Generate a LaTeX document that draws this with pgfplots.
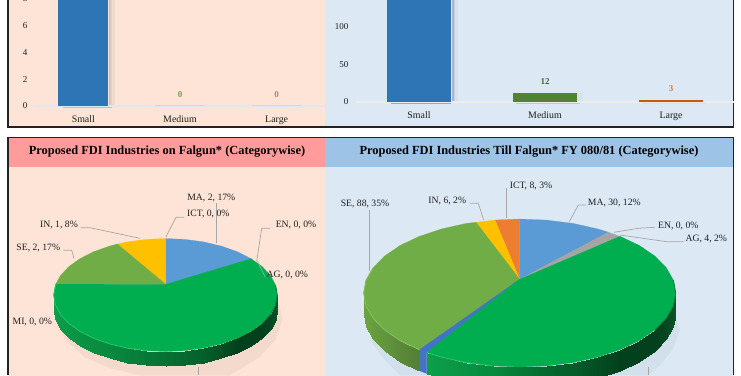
\documentclass[border=0pt]{standalone}
\usepackage{pgfplots}
\pgfplotsset{compat=1.18}
\usepackage{fontspec}
\setmainfont{Liberation Serif}
\definecolor{peach}{HTML}{FDE4D7}
\definecolor{sky}{HTML}{DCE9F5}
\definecolor{tleft}{HTML}{FF9B9B}
\definecolor{tright}{HTML}{9DC3E6}
\definecolor{frameC}{HTML}{222222}
\definecolor{lead}{HTML}{A6A6A6}
\definecolor{txt}{HTML}{1F1F1F}
\definecolor{pMA}{HTML}{5B9BD5}
\definecolor{pMI}{HTML}{00AD4F}
\definecolor{pSE}{HTML}{70AD47}
\definecolor{pIN}{HTML}{FFC000}
\definecolor{pICT}{HTML}{ED7D31}
\definecolor{pAG}{HTML}{A5A5A5}
\definecolor{pTO}{HTML}{4472C4}
\definecolor{barB}{HTML}{2E75B6}
\definecolor{barG}{HTML}{548235}
\definecolor{barO}{HTML}{C55A11}
\definecolor{shL}{HTML}{F3DACC}
\definecolor{shR}{HTML}{D2E0EC}
\definecolor{bevG}{HTML}{25C56C}
\definecolor{bevS}{HTML}{86C25A}
\definecolor{bevD}{HTML}{07803A}
\newcommand\poly[2]{\addplot[fill=#1,draw=#1,line width=.2pt] coordinates {#2} --cycle;}
\newcommand\leader[1]{\addplot[lead,line width=.7pt] coordinates {#1};}
\newcommand\lab[2]{\node[text=txt,font=\fontsize{9.7}{10}\selectfont,inner sep=0pt] at (#1) {#2};}
\pgfplotsset{bars/.style={
  scale only axis, ybar, axis x line=bottom, axis y line=left, clip=false,
  xmin=-0.5, xmax=2.5, ymin=0,
  xtick={0,1,2}, xticklabels={Small,Medium,Large},
  tick style={draw=none}, major tick length=0pt,
  y axis line style={draw=none},
  xticklabel style={font=\fontsize{9.9}{11}\selectfont,text=txt,yshift=-6pt},
  yticklabel style={font=\fontsize{9}{10}\selectfont,text=txt,xshift=-4pt},
  /pgf/number format/assume math mode=true,
  nodes near coords, nodes near coords style={font=\fontsize{9}{10}\selectfont\bfseries,yshift=5pt},
}}
\begin{document}
\begin{tikzpicture}[x=1pt,y=1pt]
\useasboundingbox (0,0) rectangle (741,375);
\clip (0,0) rectangle (741,375);
\begin{axis}[at={(0pt,0pt)},anchor=south west,scale only axis,width=741pt,height=375pt,
  xmin=0,xmax=741,ymin=0,ymax=375,y dir=reverse,hide axis,clip=false,no markers,
  colormap={sides}{rgb255(0)=(12,159,74) rgb255(1)=(8,138,63) rgb255(2)=(5,96,43) rgb255(3)=(3,64,29) rgb255(4)=(10,90,44) rgb255(5)=(107,163,68) rgb255(6)=(84,127,53)},
  point meta min=0, point meta max=6]
% panels
\poly{peach}{(8,0)(325,0)(325,127)(8,127)}
\poly{sky}{(325,0)(733,0)(733,127)(325,127)}
\poly{tleft}{(8,138)(325,138)(325,167)(8,167)}
\poly{tright}{(325,138)(733,138)(733,167)(325,167)}
\poly{peach}{(8,167)(325,167)(325,375)(8,375)}
\poly{sky}{(325,167)(733,167)(733,375)(325,375)}
\addplot[frameC,line width=1.5pt] coordinates {(8,0)(8,127)(733.5,127)(733.5,0)};
\addplot[frameC,line width=1.5pt] coordinates {(8,375)(8,137.5)(733.5,137.5)(733.5,375)};
% bar shadows
\definecolor{a1}{HTML}{C9BDB5}\definecolor{a2}{HTML}{DED0C6}\definecolor{a3}{HTML}{F0DACD}
\definecolor{b1}{HTML}{A9B6C3}\definecolor{b2}{HTML}{C3D0DC}\definecolor{b3}{HTML}{D6E3EF}
\poly{a1}{(109,0)(110.5,0)(110.5,105)(109,105)}
\poly{a2}{(110.5,0)(112,0)(112,105)(110.5,105)}
\poly{a3}{(112,0)(114,0)(114,105)(112,105)}
\poly{b1}{(452,0)(454,0)(454,100)(452,100)}
\poly{b2}{(454,0)(455.5,0)(455.5,100)(454,100)}
\poly{b3}{(455.5,0)(457,0)(457,100)(455.5,100)}
\poly{b3}{(577,93)(582,93)(582,100)(577,100)}
\addplot[gray!70,line width=.8pt] coordinates {(391,103.5)(451,103.5)};
\addplot[gray!45,line width=.8pt] coordinates {(516,103.5)(580,103.5)};
\addplot[gray!25,line width=.8pt] coordinates {(642,103.5)(705,103.5)};
\addplot[gray!50,line width=.7pt] coordinates {(63,107.5)(112,107.5)};
% pie shadows
\poly{shL}{(56,320)(66,340)(85,357)(110,368)(140,375)(230,375)(258,358)(275,340)(282,320)(279,305)}
\poly{shR}{(672,310)(680,330)(672,350)(660,365)(648,375)(400,375)(385,360)(370,340)}
% left pie side
\addplot[surf,shader=interp,mesh/rows=2,point meta=\thisrow{c}] table {
x y c
53.7 295 0
55.4 304.8 0
60.4 314.3 0.2
68.7 323.3 0.4
79.9 331.3 0.6
93.6 338.3 0.8
109.6 343.9 1
127.3 348.1 1.2
146.1 350.6 1.4
165.5 351.5 1.6
184.9 350.6 1.8
203.7 348.1 2
221.4 343.9 2.5
237.4 338.3 3
251.1 331.3 3
262.3 323.3 3
270.6 314.3 3.3
275.6 304.8 3.7
277.3 295 4
53.7 309.5 0
55.4 319.3 0
60.4 328.8 0.2
68.7 337.8 0.4
79.9 345.8 0.6
93.6 352.8 0.8
109.6 358.4 1
127.3 362.6 1.2
146.1 365.1 1.4
165.5 366 1.6
184.9 365.1 1.8
203.7 362.6 2
221.4 358.4 2.5
237.4 352.8 3
251.1 345.8 3
262.3 337.8 3
270.6 328.8 3.3
275.6 319.3 3.7
277.3 309.5 4
};
% left pie face
\poly{pMA}{(165.7,284.3)(165.5,238.5)(184.9,239.4)(203.7,241.9)(221.4,246.1)(237.4,251.7)(251.1,258.7)}
\poly{pIN}{(165.7,284.3)(117.3,244)(127.3,241.9)(146.1,239.4)(165.5,238.5)}
\poly{pSE}{(165.7,284.3)(55.7,284.2)(60.4,275.7)(68.7,266.7)(79.9,258.7)(93.6,251.7)(109.6,246.1)(117.3,244)}
\poly{pMI}{(165.7,284.3)(251.1,258.7)(262.3,266.7)(270.6,275.7)(275.6,285.2)(277.3,295)(275.6,304.8)(270.6,314.3)(262.3,323.3)(251.1,331.3)(237.4,338.3)(221.4,343.9)(203.7,348.1)(184.9,350.6)(165.5,351.5)(146.1,350.6)(127.3,348.1)(109.6,343.9)(93.6,338.3)(79.9,331.3)(68.7,323.3)(60.4,314.3)(55.4,304.8)(53.7,295)(55.7,284.2)}
\addplot[bevG,line width=.8pt] coordinates {(55.7,284.2)(53.7,295)(55.4,304.8)(60.4,314.3)(68.7,323.3)(79.9,331.3)(93.6,338.3)(109.6,343.9)(127.3,348.1)(146.1,350.6)};
\addplot[bevD,line width=.8pt] coordinates {(262.3,323.3)(270.6,314.3)(275.6,304.8)(277.3,295)(275.6,285.2)};
% right pie sides
\addplot[surf,shader=interp,mesh/rows=2,point meta=\thisrow{c}] table {
x y c
363.7 293 5
366 305.9 5
373.1 318.3 5.2
384.6 330 5.4
400.2 340.6 5.7
419.4 349.7 6
363.7 314 5
366 326.9 5
373.1 339.3 5.2
384.6 351 5.4
400.2 361.6 5.7
419.4 370.7 6
};
\poly{pTO}{(419.4,349.7)(426.7,352.5)(426.7,373.5)(419.4,370.7)}
\addplot[surf,shader=interp,mesh/rows=2,point meta=\thisrow{c}] table {
x y c
426.7 352.5 0
441.7 357.1 0.2
466.3 362.6 0.6
492.6 365.9 1
519.7 367 1.4
546.8 365.9 1.8
573.1 362.6 2.1
597.7 357.1 2.6
620 349.7 3
639.2 340.6 3
654.8 330 3
666.3 318.3 3.3
673.4 305.9 3.7
675.7 293 4
426.7 373.5 0
441.7 378.1 0.2
466.3 383.6 0.6
492.6 386.9 1
519.7 388 1.4
546.8 386.9 1.8
573.1 383.6 2.1
597.7 378.1 2.6
620 370.7 3
639.2 361.6 3
654.8 351 3
666.3 339.3 3.3
673.4 326.9 3.7
675.7 314 4
};
% right pie face
\poly{pMA}{(519.7,279.3)(519.7,219)(546.8,220.1)(573.1,223.4)(597.7,228.9)(608.3,232.2)}
\poly{pAG}{(519.7,279.3)(608.3,232.2)(620,236.3)}
\poly{pICT}{(519.7,279.3)(495,220)(519.7,219)}
\poly{pIN}{(519.7,279.3)(476,222.3)(495,220)}
\poly{pSE}{(519.7,279.3)(419.4,349.7)(400.2,340.6)(384.6,330)(373.1,318.3)(366,305.9)(363.7,293)(366,280.1)(373.1,267.7)(384.6,256)(400.2,245.4)(419.4,236.3)(441.7,228.9)(466.3,223.4)(476,222.3)}
\poly{pTO}{(519.7,279.3)(426.7,352.5)(419.4,349.7)}
\poly{pMI}{(519.7,279.3)(620,236.3)(639.2,245.4)(654.8,256)(666.3,267.7)(673.4,280.1)(675.7,293)(673.4,305.9)(666.3,318.3)(654.8,330)(639.2,340.6)(620,349.7)(597.7,357.1)(573.1,362.6)(546.8,365.9)(519.7,367)(492.6,365.9)(466.3,362.6)(441.7,357.1)(426.7,352.5)}
\addplot[bevS,line width=.8pt] coordinates {(373.1,267.7)(366,280.1)(363.7,293)(366,305.9)(373.1,318.3)(384.6,330)(400.2,340.6)(419.4,349.7)};
\addplot[bevG,line width=.8pt] coordinates {(426.7,352.5)(441.7,357.1)(466.3,362.6)(492.6,365.9)};
\addplot[bevD,line width=.8pt] coordinates {(654.8,330)(666.3,318.3)(673.4,305.9)(675.7,293)(673.4,280.1)};
% leaders
\leader{(216.7,203.3)(216.7,242.7)}
\leader{(184,217.3)(176,217.3)(165.7,237.3)}
\leader{(270,228.3)(261.7,228.3)(256.7,261)}
\leader{(265.3,277.3)(257.3,261)}
\leader{(80.7,227.7)(90,227.7)(140,238.3)}
\leader{(63.3,250.3)(71.7,250.3)(74,258.3)}
\leader{(198.3,366.7)(198.3,375)}
\leader{(369.7,210)(369.7,270.7)}
\leader{(470,203.3)(478.3,203.3)(483.7,220)}
\leader{(506.7,188.3)(506.7,218.3)}
\leader{(586,205)(578.3,205)(569.3,221.7)}
\leader{(655,227.3)(638.3,228.3)(614,232.3)}
\leader{(683.3,241.7)(666.7,241.7)(620,235)}
\leader{(648.3,366.7)(648.3,375)}
% labels
\lab{211.3,197.7}{MA, 2, 17\%}
\lab{208.3,213.7}{ICT, 0, 0\%}
\lab{296,225}{EN, 0, 0\%}
\lab{287.3,275}{AG, 0, 0\%}
\lab{59,225}{IN, 1, 8\%}
\lab{38.3,247.7}{SE, 2, 17\%}
\lab{32.3,321.7}{MI, 0, 0\%}
\lab{365,204}{SE, 88, 35\%}
\lab{447.3,200.7}{IN, 6, 2\%}
\lab{531,185.7}{ICT, 8, 3\%}
\lab{614.3,202.7}{MA, 30, 12\%}
\lab{678.3,225.7}{EN, 0, 0\%}
\lab{706.3,238.7}{AG, 4, 2\%}
\node[font=\fontsize{12.4}{13}\selectfont\bfseries,text=black,inner sep=0pt] at (167,151.5) {Proposed FDI Industries on Falgun* (Categorywise)};
\node[font=\fontsize{12.4}{13}\selectfont\bfseries,text=black,inner sep=0pt] at (529,151.5) {Proposed FDI Industries Till Falgun* FY 080/81 (Categorywise)};
\end{axis}
% left bars
\begin{axis}[bars,at={(35pt,269pt)},anchor=south west,width=290pt,height=160.8pt,ymax=12,
  ytick={0,2,4,6,8},x axis line style={draw=sky,line width=1.3pt,-},bar shift=0pt,bar width=50pt]
\addplot[fill=barB,draw=none,nodes near coords=\empty] coordinates {(0,12)};
\addplot[fill=barG,draw=none,text=barG!80!white] coordinates {(1,0)};
\addplot[fill=barO,draw=none,text=barO!80!white] coordinates {(2,0)};
\end{axis}
% right bars
\begin{axis}[bars,at={(356pt,273pt)},anchor=south west,width=378pt,height=176.25pt,ymax=235,
  ytick={0,50,100},x axis line style={draw=gray!15,line width=1.3pt,-},bar shift=0pt,bar width=64pt]
\addplot[fill=barB,draw=none,nodes near coords=\empty] coordinates {(0,235)};
\addplot[fill=barG,draw=none,text=barG!80!black] coordinates {(1,12)};
\addplot[fill=barO,draw=none,text=barO!80!white] coordinates {(2,3)};
\end{axis}
\end{tikzpicture}
\end{document}
